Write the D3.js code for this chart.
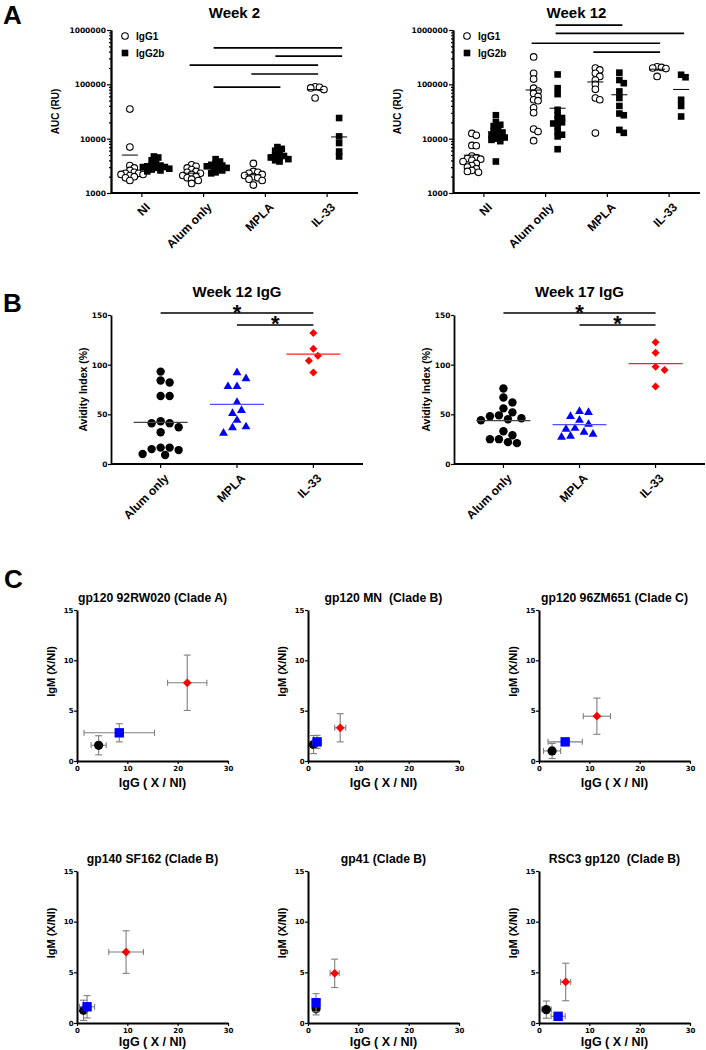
<!DOCTYPE html>
<html><head><meta charset="utf-8">
<script src="https://cdn.jsdelivr.net/npm/d3@7"></script>
<style>
body{margin:0;background:#fff}
svg{display:block}
text{font-family:"Liberation Sans",Arial,sans-serif;font-weight:bold;fill:#000;white-space:pre}
.num text{font-family:"DejaVu Sans",sans-serif;font-weight:bold}
</style>
</head><body><svg id="c" width="706" height="1050"></svg>
<script>
// ---------------- DATA ----------------
const groupsA = ["NI", "Alum only", "MPLA", "IL-33"];
const seriesA = ["IgG1", "IgG2b"];
const yTicksA = [1000, 10000, 100000, 1000000];

// Week 2 AUC (RU), per group
const w2IgG1 = [
  [35000,7000,3200,2900,2600,2400,2300,2300,2200,2200,2100,2000,1900,1700],
  [3300,3100,2900,2700,2500,2400,2300,2200,2100,2000,1900,1800,1700,1500],
  [3500,2500,2400,2300,2200,2100,2000,1900,1800,1700,1400],
  [90000,88000,86000,80000,56000]
];
const w2IgG2b = [
  [4700,4500,4000,3500,3300,3200,3100,3000,3000,2900,2800,2700,2600,2500],
  [4200,3800,3500,3300,3200,3100,3000,2900,2800,2600,2400,2300],
  [7000,6500,6000,5500,5000,4800,4600,4500,4200,4000,3800],
  [24000,11000,8300,5800,4700]
];
// Week 12 AUC (RU)
const w12IgG1 = [
  [12500,11500,7500,7400,4800,4500,4300,4200,4000,3800,3500,3200,3000,2800,2600,2500,2400],
  [320000,160000,125000,85000,75000,68000,60000,52000,50000,37000,30000,15000,13500,9200],
  [200000,184000,160000,140000,120000,100000,81000,56000,52000,12700],
  [210000,205000,200000,195000,140000]
];
const w12IgG2b = [
  [27000,20000,18000,17000,15000,14000,13000,12000,11500,11000,10500,10000,9500,9000,3800],
  [152000,85000,66000,34000,27000,24000,22000,20000,19000,17000,13500,11800,11000,6400],
  [164000,120000,105000,74000,56000,40000,29000,27000,14500,12800],
  [150000,135000,52000,40000,25600]
];
// significance bars: [group from, series from, group to, series to, height value]
const sigW2 = [[1,1,3,1,470000],[2,1,3,1,330000],[1,0,3,0,226000],[2,0,3,0,155000],[1,1,2,1,89000]];
const sigW12 = [[1,1,2,1,1230000],[1,1,3,1,870000],[1,0,3,0,570000],[2,0,3,0,390000]];

// Panel B: avidity index (%)
const groupsB = ["Alum only", "MPLA", "IL-33"];
const yTicksB = [0, 50, 100, 150];
const b12Alum = [93,84,82,68.5,68.5,43,41,41,37,32,16.5,16.5,14,15,9,10];
const b12Mpla = [93,87,79,79,63,55,52,45,38.5,37.6,32];
const b12Il33 = [132,116,109,104,92];
const b17Alum = [76,67,62,56,52,49,48,46,45,44,33,29,25,25,22,21];
const b17Mpla = [54,53,49,45,41,37,36,33,31,29,28];
const b17Il33 = [122.5,112,98,94.6,78];
const sigB = [[0,2,152],[1,2,140]]; // [from, to, height]

// Panel C: IgG and IgM ratios (X/NI), mean ± error
const cTitles = ["gp120 92RW020 (Clade A)", "gp120 MN  (Clade B)", "gp120 96ZM651 (Clade C)",
                 "gp140 SF162 (Clade B)", "gp41 (Clade B)", "RSC3 gp120  (Clade B)"];
const cXTicks = [0, 10, 20, 30];
const cYTicks = [0, 5, 10, 15];
const cAlumX    = [4.3, 1.1, 2.6, 1.3, 1.6, 1.45];
const cAlumXErr = [1.5, 0.5, 1.7, 0.6, 0.5, 1.0];
const cAlumY    = [1.56, 1.63, 1.0, 1.25, 1.4, 1.32];
const cAlumYErr = [0.95, 0.9, 0.75, 1.0, 0.6, 0.85];
const cMplaX    = [8.4, 1.8, 5.2, 2.0, 1.6, 3.8];
const cMplaXErr = [7.0, 0.8, 3.4, 1.5, 0.5, 1.4];
const cMplaY    = [2.8, 1.9, 1.9, 1.6, 2.0, 0.66];
const cMplaYErr = [0.9, 0.65, 0.2, 1.1, 0.9, 0.3];
const cIl33X    = [21.9, 6.4, 11.5, 9.75, 5.3, 5.3];
const cIl33XErr = [3.9, 1.1, 2.7, 3.45, 0.9, 1.0];
const cIl33Y    = [7.77, 3.3, 4.45, 7.0, 4.9, 4.05];
const cIl33YErr = [2.75, 1.4, 1.8, 2.1, 1.4, 1.85];

// ---------------- DRAWING ----------------
const svg = d3.select("#c");
const BLUE = "#0000ff", RED = "#ff0000";

function letter(t, x, y){
  svg.append("text").attr("x", x).attr("y", y).attr("font-size", 26).text(t);
}
function swarm(ys, minD, step){
  const order = ys.map((_, i) => i).sort((a, b) => ys[a] - ys[b]);
  const placed = [], off = new Array(ys.length);
  order.forEach(i => {
    for (let k = 0; k < 80; k++){
      const c = k === 0 ? 0 : (k % 2 ? 1 : -1) * Math.ceil(k / 2) * step;
      if (placed.every(p => Math.hypot(p[0] - c, p[1] - ys[i]) >= minD)){
        off[i] = c; placed.push([c, ys[i]]); break;
      }
    }
  });
  return off;
}
function styleAxis(sel, w){
  sel.select(".domain").attr("stroke", "#000").attr("stroke-width", w);
  sel.selectAll(".tick line").attr("stroke", "#000").attr("stroke-width", 1.2);
}
const diamond = s => `M0,${-s}L${s},0L0,${s}L${-s},0Z`;

// ---- Panel A ----
function panelA(x0, title, d1, d2, sig){
  const x1 = x0 + 247, yTop = 30, yBot = 193;
  const y = d3.scaleLog().domain([1000, 1e6]).range([yBot, yTop]);
  const x = d3.scaleBand().domain(groupsA).range([x0, x1]);
  const cx = i => x(groupsA[i]) + x.bandwidth() / 2;
  const sOff = [-12, 12];
  const g = svg.append("g");
  g.append("text").attr("x", (x0 + x1) / 2).attr("y", 18).attr("text-anchor", "middle")
    .attr("font-size", 15).text(title);
  const ya = g.append("g").attr("class", "num").attr("transform", `translate(${x0},0)`)
    .call(d3.axisLeft(y).tickValues(yTicksA).tickFormat(d3.format("d")).tickSize(4).tickSizeOuter(0));
  ya.selectAll("text").attr("font-size", 7.5).attr("x", -5);
  styleAxis(ya, 1.8);
  const minors = [];
  [1000, 10000, 100000].forEach(b => { for (let m = 2; m <= 9; m++) minors.push(m * b); });
  const ym = g.append("g").attr("transform", `translate(${x0},0)`)
    .call(d3.axisLeft(y).tickValues(minors).tickFormat("").tickSize(2).tickSizeOuter(0));
  styleAxis(ym, 1.8);
  g.append("text").attr("transform", `translate(${x0 - 52},${(yTop + yBot) / 2}) rotate(-90)`)
    .attr("text-anchor", "middle").attr("font-size", 10).text("AUC (RU)");
  // x axis
  g.append("line").attr("x1", x0).attr("x2", x1).attr("y1", yBot).attr("y2", yBot)
    .attr("stroke", "#000").attr("stroke-width", 1.8);
  groupsA.forEach((name, i) => {
    g.append("line").attr("x1", cx(i)).attr("x2", cx(i)).attr("y1", yBot).attr("y2", yBot + 4)
      .attr("stroke", "#000").attr("stroke-width", 1.2);
    g.append("text").attr("transform", `translate(${cx(i) + 3},${yBot + 9}) rotate(-45)`)
      .attr("text-anchor", "end").attr("dy", "0.7em").attr("font-size", 12).text(name);
  });
  // points
  [d1, d2].forEach((data, si) => {
    data.forEach((vals, gi) => {
      const px = cx(gi) + sOff[si];
      const ys = vals.map(v => y(v));
      const off = swarm(ys, 4.2, 2.2);
      vals.forEach((v, k) => {
        if (si === 0){
          g.append("circle").attr("cx", px + off[k]).attr("cy", ys[k]).attr("r", 3.3)
            .attr("fill", "#fff").attr("stroke", "#000").attr("stroke-width", 1.1);
        } else {
          g.append("rect").attr("x", px + off[k] - 3.3).attr("y", ys[k] - 3.3)
            .attr("width", 6.6).attr("height", 6.6).attr("fill", "#000");
        }
      });
      const m = d3.mean(vals);
      g.append("line").attr("x1", px - 8).attr("x2", px + 8).attr("y1", y(m)).attr("y2", y(m))
        .attr("stroke", "#000").attr("stroke-width", 1);
    });
  });
  // significance
  sig.forEach(s => {
    const yy = y(s[4]);
    g.append("line").attr("x1", cx(s[0]) + sOff[s[1]] - 2).attr("x2", cx(s[2]) + sOff[s[3]] + 3)
      .attr("y1", yy).attr("y2", yy).attr("stroke", "#000").attr("stroke-width", 1.7);
  });
  // legend
  g.append("circle").attr("cx", x0 + 14).attr("cy", 36).attr("r", 3.3).attr("fill", "#fff")
    .attr("stroke", "#000").attr("stroke-width", 1.1);
  g.append("text").attr("x", x0 + 25).attr("y", 40).attr("font-size", 10).text(seriesA[0]);
  g.append("rect").attr("x", x0 + 10.7).attr("y", 49.7).attr("width", 6.6).attr("height", 6.6).attr("fill", "#000");
  g.append("text").attr("x", x0 + 25).attr("y", 57).attr("font-size", 10).text(seriesA[1]);
}

// ---- Panel B ----
function panelB(x0, x1, title, alum, mpla, il33){
  const yTop = 315, yBot = 464;
  const y = d3.scaleLinear().domain([0, 150]).range([yBot, yTop]);
  const x = d3.scalePoint().domain(groupsB).range([x0, x1]).padding(0.65);
  const g = svg.append("g");
  g.append("text").attr("x", x(groupsB[1])).attr("y", 297).attr("text-anchor", "middle")
    .attr("font-size", 15).text(title);
  const ya = g.append("g").attr("class", "num").attr("transform", `translate(${x0},0)`)
    .call(d3.axisLeft(y).tickValues(yTicksB).tickSize(3).tickSizeOuter(0));
  ya.selectAll("text").attr("font-size", 7.5).attr("x", -3.5);
  styleAxis(ya, 1.8);
  g.append("text").attr("transform", `translate(${x0 - 24},${(yTop + yBot) / 2}) rotate(-90)`)
    .attr("text-anchor", "middle").attr("font-size", 10.5).text("Avidity Index (%)");
  g.append("line").attr("x1", x0).attr("x2", x1).attr("y1", yBot).attr("y2", yBot)
    .attr("stroke", "#000").attr("stroke-width", 1.8);
  groupsB.forEach(name => {
    g.append("line").attr("x1", x(name)).attr("x2", x(name)).attr("y1", yBot).attr("y2", yBot + 4)
      .attr("stroke", "#000").attr("stroke-width", 1.2);
    g.append("text").attr("transform", `translate(${x(name) + 3},${yBot + 9}) rotate(-45)`)
      .attr("text-anchor", "end").attr("dy", "0.7em").attr("font-size", 12).text(name);
  });
  const sets = [[alum, "#000", "circle", "#444"], [mpla, BLUE, "tri", "#5050ff"], [il33, RED, "dia", "#ff2020"]];
  sets.forEach((s, gi) => {
    const vals = s[0], px = x(groupsB[gi]);
    const ys = vals.map(v => y(v));
    const off = swarm(ys, 8, 4.5);
    const m = d3.mean(vals);
    vals.forEach((v, k) => {
      const X = px + off[k], Y = ys[k];
      if (s[2] === "circle") g.append("circle").attr("cx", X).attr("cy", Y).attr("r", 4.2).attr("fill", s[1]);
      else if (s[2] === "tri") g.append("path").attr("d", d3.symbol(d3.symbolTriangle, 34)()).attr("transform", `translate(${X},${Y + 1})`).attr("fill", s[1]);
      else g.append("path").attr("d", diamond(4)).attr("transform", `translate(${X},${Y})`).attr("fill", s[1]);
    });
    g.append("line").attr("x1", px - 27).attr("x2", px + 27).attr("y1", y(m)).attr("y2", y(m))
      .attr("stroke", s[3]).attr("stroke-width", 1.3);
  });
  sigB.forEach(s => {
    const xa = x(groupsB[s[0]]), xb = x(groupsB[s[1]]), yy = y(s[2]);
    g.append("line").attr("x1", xa).attr("x2", xb).attr("y1", yy).attr("y2", yy)
      .attr("stroke", "#000").attr("stroke-width", 1.5);
    g.append("text").attr("x", (xa + xb) / 2).attr("y", yy + 6.5).attr("text-anchor", "middle")
      .attr("font-size", 22).text("*");
  });
}

// ---- Panel C ----
function panelC(i){
  const col = i % 3, row = Math.floor(i / 3);
  const x0 = [77, 308, 539][col], yTop = [610, 871][row], yBot = [761, 1023][row];
  const x = d3.scaleLinear().domain([0, 30]).range([x0, x0 + 151]);
  const y = d3.scaleLinear().domain([0, 15]).range([yBot, yTop]);
  const g = svg.append("g");
  g.append("text").attr("x", x0 + 75.5).attr("y", yTop - 8).attr("text-anchor", "middle")
    .attr("font-size", 12.2).text(cTitles[i]);
  const ya = g.append("g").attr("class", "num").attr("transform", `translate(${x0},0)`)
    .call(d3.axisLeft(y).tickValues(cYTicks).tickSize(3).tickSizeOuter(0));
  ya.selectAll("text").attr("font-size", 7).attr("x", -3.5);
  styleAxis(ya, 2);
  const xa = g.append("g").attr("class", "num").attr("transform", `translate(0,${yBot})`)
    .call(d3.axisBottom(x).tickValues(cXTicks).tickSize(3).tickSizeOuter(0));
  xa.selectAll("text").attr("font-size", 7).attr("y", 5);
  styleAxis(xa, 2);
  g.append("text").attr("transform", `translate(${x0 - 22},${(yTop + yBot) / 2 - 14}) rotate(-90)`)
    .attr("text-anchor", "middle").attr("font-size", 11).text("IgM (X/NI)");
  g.append("text").attr("x", x0 + 75.5).attr("y", Math.min(yBot + 26, 1046)).attr("text-anchor", "middle")
    .attr("font-size", 12.5).text("IgG ( X / NI)");
  const pts = [
    [cAlumX[i], cAlumXErr[i], cAlumY[i], cAlumYErr[i], "#000", "circle"],
    [cMplaX[i], cMplaXErr[i], cMplaY[i], cMplaYErr[i], BLUE, "square"],
    [cIl33X[i], cIl33XErr[i], cIl33Y[i], cIl33YErr[i], RED, "dia"]
  ];
  pts.forEach(p => {
    const X = x(p[0]), Y = y(p[2]);
    const eb = g.append("g").attr("stroke", "#7f7f7f").attr("stroke-width", 1.1);
    const xl = x(Math.max(0, p[0] - p[1])), xr = x(p[0] + p[1]);
    const yt = y(p[2] + p[3]), yb = y(Math.max(0, p[2] - p[3]));
    eb.append("line").attr("x1", xl).attr("x2", xr).attr("y1", Y).attr("y2", Y);
    eb.append("line").attr("x1", xl).attr("x2", xl).attr("y1", Y - 3).attr("y2", Y + 3);
    eb.append("line").attr("x1", xr).attr("x2", xr).attr("y1", Y - 3).attr("y2", Y + 3);
    eb.append("line").attr("x1", X).attr("x2", X).attr("y1", yt).attr("y2", yb);
    eb.append("line").attr("x1", X - 3.5).attr("x2", X + 3.5).attr("y1", yt).attr("y2", yt);
    eb.append("line").attr("x1", X - 3.5).attr("x2", X + 3.5).attr("y1", yb).attr("y2", yb);
    if (p[5] === "circle") g.append("circle").attr("cx", X).attr("cy", Y).attr("r", 4.6).attr("fill", p[4]);
    else if (p[5] === "square") g.append("rect").attr("x", X - 4.7).attr("y", Y - 4.7).attr("width", 9.4).attr("height", 9.4).attr("fill", p[4]);
    else g.append("path").attr("d", diamond(4.4)).attr("transform", `translate(${X},${Y})`).attr("fill", p[4]);
  });
}

letter("A", 3, 24);
panelA(111, "Week 2", w2IgG1, w2IgG2b, sigW2);
panelA(453, "Week 12", w12IgG1, w12IgG2b, sigW12);
letter("B", 3, 312);
panelB(111, 363, "Week 12 IgG", b12Alum, b12Mpla, b12Il33);
panelB(454, 705, "Week 17 IgG", b17Alum, b17Mpla, b17Il33);
letter("C", 4, 588);
for (let i = 0; i < 6; i++) panelC(i);
</script>
</body></html>
